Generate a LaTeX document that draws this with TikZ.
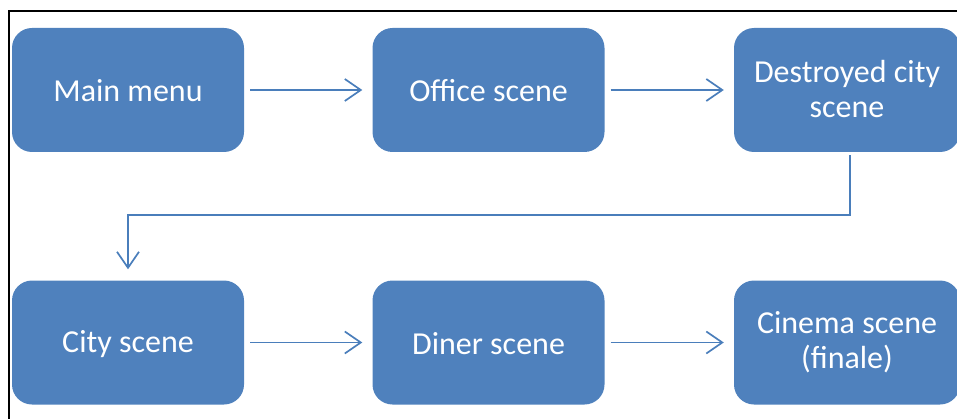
\documentclass[tikz,border=0pt]{standalone}
\usepackage{fontspec}
\setmainfont{Carlito}
\usetikzlibrary{arrows.meta}
\definecolor{boxblue}{HTML}{4F81BD}
\definecolor{lineblue}{HTML}{4A7EBB}
\newcommand\boxstrut{\rule[-3pt]{0pt}{29pt}}
\begin{document}
\begin{tikzpicture}[x=1pt,y=1pt,
  scenebox/.style={fill=boxblue, draw=none, rounded corners=20pt, minimum width=232pt, minimum height=124pt, inner sep=0pt, text=white, align=center, font=\fontsize{32}{35}\selectfont, execute at begin node=\boxstrut},
  conn/.style={draw=lineblue, line width=1.7pt, -{Straight Barb[length=16pt,width=22pt,line width=1.7pt]}}]
\useasboundingbox (0,0) rectangle (957,418);
\draw[line width=2.2pt] (9,-2) -- (9,407) -- (960,407);
\node[scenebox] (main) at (128,328) {Main menu};
\node[scenebox] (office) at (488.5,328) {Office scene};
\node[scenebox, minimum width=226pt] (dest) at (847,328) {Destroyed city\\scene\boxstrut};
\node[scenebox] (city) at (128,75.5) {City scene};
\node[scenebox] (diner) at (488.5,75.5) {Diner scene};
\node[scenebox, minimum width=226pt] (cinema) at (847,75.5) {Cinema scene\\(finale)\boxstrut};
\draw[conn, shorten <=6pt, shorten >=10pt] (main) -- (office);
\draw[conn, shorten <=6pt, shorten >=10pt] (office) -- (dest);
\draw[conn, shorten <=6pt, shorten >=10pt] (city) -- (diner);
\draw[conn, shorten <=6pt, shorten >=10pt] (diner) -- (cinema);
\coordinate (bend) at ([xshift=3pt,yshift=-63pt]dest.south);
\draw[conn, shorten <=3pt, shorten >=11pt] ([xshift=3pt]dest.south) -- (bend) -| (city.north);
\end{tikzpicture}
\end{document}
